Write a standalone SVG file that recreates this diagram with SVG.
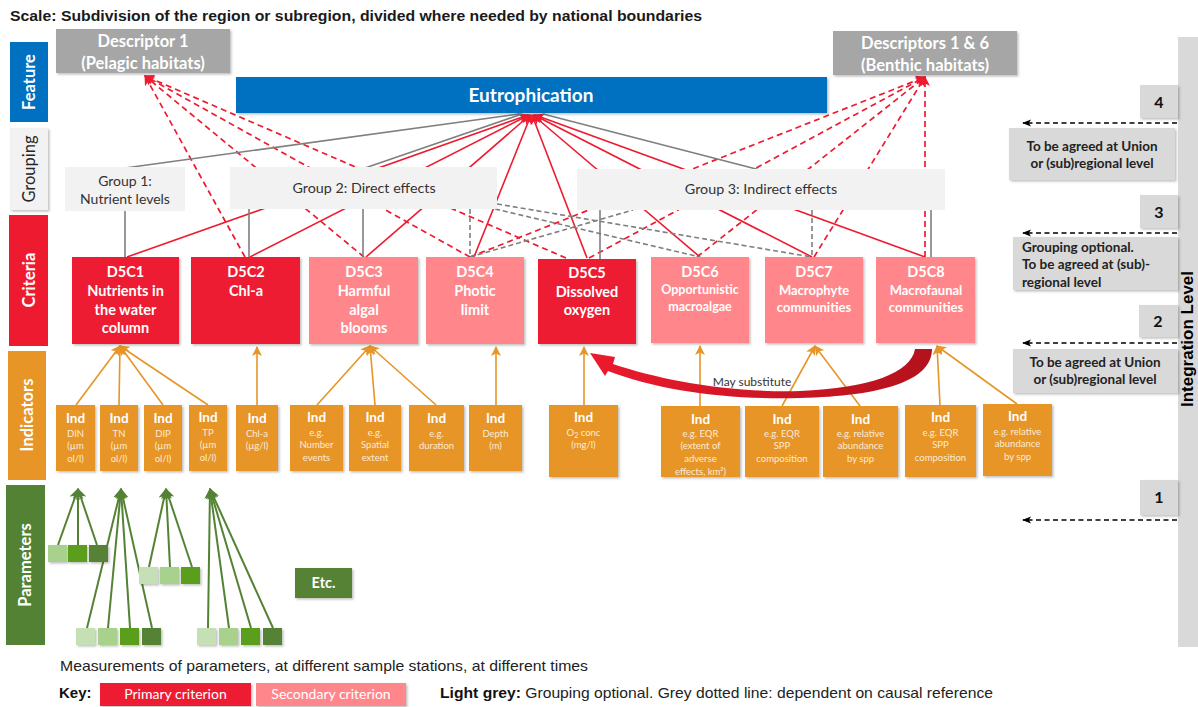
<svg xmlns="http://www.w3.org/2000/svg" width="1198" height="707" viewBox="0 0 1198 707">
<defs>
<style>
.cal{font-family:Lato,"Open Sans","Noto Sans",sans-serif}
.ar{font-family:"Liberation Sans",Arial,sans-serif}
.wb{fill:#fff;font-weight:bold}
.prim{fill:#EE1B30}
.sec{fill:#FF868B}
.ind{fill:#E69526}
.grp{fill:#F2F2F2}
.lvl{fill:#D9D9D9}
.rs{stroke:#EE1B30;stroke-width:1.6;fill:none}
.rd{stroke:#EE1B30;stroke-width:1.7;fill:none;stroke-dasharray:6 4}
.gs{stroke:#7F7F7F;stroke-width:1.6;fill:none}
.gd{stroke:#7F7F7F;stroke-width:1.6;fill:none;stroke-dasharray:5 3}
.os{stroke:#E69526;stroke-width:1.6;fill:none}
.grn{stroke:#548235;stroke-width:2;fill:none}
.bd{stroke:#000;stroke-width:1.5;fill:none;stroke-dasharray:5 3.5}
.ind-t{font-size:13.5px}
.ind-s{font-size:9.5px;fill:#FCEBD9}
.crit{font-size:14.5px}
.note{font-size:13.5px;font-weight:bold;fill:#222}
.side{font-size:16.5px}
</style>
<filter id="sh" x="-10%" y="-10%" width="130%" height="140%"><feDropShadow dx="1.5" dy="1.5" stdDeviation="1" flood-color="#000" flood-opacity="0.25"/></filter>
<marker id="mr" viewBox="0 0 10 10" refX="9" refY="5" markerWidth="10" markerHeight="10" orient="auto" markerUnits="userSpaceOnUse"><path d="M0,0 L10,5 L0,10 L2.5,5 z" fill="#EE1B30"/></marker>
<marker id="mo" viewBox="0 0 10 10" refX="9" refY="5" markerWidth="10" markerHeight="10" orient="auto" markerUnits="userSpaceOnUse"><path d="M0,0 L10,5 L0,10 L2.5,5 z" fill="#E69526"/></marker>
<marker id="mg" viewBox="0 0 10 10" refX="9" refY="5" markerWidth="11" markerHeight="11" orient="auto" markerUnits="userSpaceOnUse"><path d="M0,0 L10,5 L0,10 L2.5,5 z" fill="#548235"/></marker>
<marker id="mk" viewBox="0 0 10 10" refX="9" refY="5" markerWidth="9" markerHeight="9" orient="auto" markerUnits="userSpaceOnUse"><path d="M0,1 L10,5 L0,9 L2.5,5 z" fill="#000"/></marker>
<linearGradient id="cres" x1="0" y1="0" x2="1" y2="0"><stop offset="0" stop-color="#EC1A2E"/><stop offset="1" stop-color="#B3121C"/></linearGradient>
</defs>

<text class="ar" x="10" y="21" font-size="15" font-weight="bold" fill="#1a1a1a" textLength="692" lengthAdjust="spacingAndGlyphs">Scale: Subdivision of the region or subregion, divided where needed by national boundaries</text>

<g id="connectors">
  <!-- red solid: criteria to Eutrophication -->
  <line class="rs" x1="127" y1="257" x2="528" y2="115" marker-end="url(#mr)"/>
  <line class="rs" x1="250" y1="257" x2="529" y2="115" marker-end="url(#mr)"/>
  <line class="rs" x1="366" y1="257" x2="530" y2="115" marker-end="url(#mr)"/>
  <line class="rs" x1="474" y1="257" x2="531" y2="115" marker-end="url(#mr)"/>
  <line class="rs" x1="587" y1="258" x2="532" y2="115" marker-end="url(#mr)"/>
  <line class="rs" x1="700" y1="257" x2="533" y2="115" marker-end="url(#mr)"/>
  <line class="rs" x1="812" y1="257" x2="534" y2="115" marker-end="url(#mr)"/>
  <line class="rs" x1="925" y1="257" x2="535" y2="115" marker-end="url(#mr)"/>
  <!-- red dashed to Descriptor 1 -->
  <line class="rd" x1="245" y1="257" x2="145" y2="76" marker-end="url(#mr)"/>
  <line class="rd" x1="364" y1="257" x2="145" y2="76" marker-end="url(#mr)"/>
  <line class="rd" x1="470" y1="257" x2="145" y2="76" marker-end="url(#mr)"/>
  <line class="rd" x1="566" y1="258" x2="145" y2="76" marker-end="url(#mr)"/>
  <!-- red dashed to Descriptors 1 & 6 -->
  <line class="rd" x1="470" y1="257" x2="925" y2="77" marker-end="url(#mr)"/>
  <line class="rd" x1="589" y1="258" x2="925" y2="77" marker-end="url(#mr)"/>
  <line class="rd" x1="697" y1="257" x2="925" y2="77" marker-end="url(#mr)"/>
  <line class="rd" x1="814" y1="257" x2="925" y2="77" marker-end="url(#mr)"/>
  <line class="rd" x1="925" y1="257" x2="925" y2="77" marker-end="url(#mr)"/>
  <!-- grey: groups to Eutrophication -->
  <line class="gs" x1="125" y1="168" x2="519" y2="114"/>
  <line class="gs" x1="365" y1="168" x2="522" y2="114"/>
  <line class="gs" x1="760" y1="170" x2="543" y2="114"/>
  <!-- grey: criteria to groups -->
  <line class="gs" x1="125" y1="211" x2="125" y2="257"/>
  <line class="gs" x1="249" y1="209" x2="249" y2="257"/>
  <line class="gs" x1="363" y1="209" x2="363" y2="257"/>
  <line class="gd" x1="470" y1="209" x2="470" y2="257"/>
  <line class="gs" x1="600" y1="210" x2="600" y2="259"/>
  <line class="gd" x1="812" y1="210" x2="812" y2="257"/>
  <line class="gs" x1="931" y1="210" x2="931" y2="257"/>
  <!-- grey dashed: dependent on causal reference -->
  <line class="gd" x1="470" y1="257" x2="633" y2="210"/>
  <line class="gd" x1="495" y1="209" x2="700" y2="257"/>
  <line class="gd" x1="497" y1="204" x2="812" y2="257"/>
  <!-- orange: indicators to criteria -->
  <line class="os" x1="76" y1="405" x2="120" y2="346" marker-end="url(#mo)"/>
  <line class="os" x1="119" y1="405" x2="120" y2="346" marker-end="url(#mo)"/>
  <line class="os" x1="163" y1="405" x2="120" y2="346" marker-end="url(#mo)"/>
  <line class="os" x1="208" y1="405" x2="120" y2="346" marker-end="url(#mo)"/>
  <line class="os" x1="257" y1="405" x2="257" y2="347" marker-end="url(#mo)"/>
  <line class="os" x1="317" y1="405" x2="370" y2="346" marker-end="url(#mo)"/>
  <line class="os" x1="375" y1="405" x2="370" y2="346" marker-end="url(#mo)"/>
  <line class="os" x1="436" y1="405" x2="370" y2="346" marker-end="url(#mo)"/>
  <line class="os" x1="496" y1="405" x2="496" y2="347" marker-end="url(#mo)"/>
  <line class="os" x1="584" y1="405" x2="584" y2="347" marker-end="url(#mo)"/>
  <line class="os" x1="700" y1="406" x2="700" y2="346" marker-end="url(#mo)"/>
  <line class="os" x1="782" y1="406" x2="815" y2="346" marker-end="url(#mo)"/>
  <line class="os" x1="860" y1="406" x2="815" y2="346" marker-end="url(#mo)"/>
  <line class="os" x1="940" y1="405" x2="937" y2="346" marker-end="url(#mo)"/>
  <line class="os" x1="1017" y1="404" x2="937" y2="346" marker-end="url(#mo)"/>
  <!-- green: parameters to indicators -->
  <line class="grn" x1="58" y1="545" x2="78" y2="489" marker-end="url(#mg)"/>
  <line class="grn" x1="78" y1="545" x2="78" y2="489" marker-end="url(#mg)"/>
  <line class="grn" x1="97" y1="545" x2="78" y2="489" marker-end="url(#mg)"/>
  <line class="grn" x1="87" y1="628" x2="121" y2="489" marker-end="url(#mg)"/>
  <line class="grn" x1="108" y1="628" x2="121" y2="489" marker-end="url(#mg)"/>
  <line class="grn" x1="130" y1="628" x2="121" y2="489" marker-end="url(#mg)"/>
  <line class="grn" x1="152" y1="628" x2="121" y2="489" marker-end="url(#mg)"/>
  <line class="grn" x1="149" y1="567" x2="166" y2="489" marker-end="url(#mg)"/>
  <line class="grn" x1="170" y1="567" x2="166" y2="489" marker-end="url(#mg)"/>
  <line class="grn" x1="192" y1="567" x2="166" y2="489" marker-end="url(#mg)"/>
  <line class="grn" x1="208" y1="628" x2="210" y2="489" marker-end="url(#mg)"/>
  <line class="grn" x1="229" y1="628" x2="210" y2="489" marker-end="url(#mg)"/>
  <line class="grn" x1="251" y1="628" x2="210" y2="489" marker-end="url(#mg)"/>
  <line class="grn" x1="273" y1="628" x2="210" y2="489" marker-end="url(#mg)"/>
  <!-- level dashed arrows -->
  <line class="bd" x1="1177" y1="123" x2="1023" y2="123" marker-end="url(#mk)"/>
  <line class="bd" x1="1177" y1="233" x2="1023" y2="233" marker-end="url(#mk)"/>
  <line class="bd" x1="1177" y1="343" x2="1023" y2="343" marker-end="url(#mk)"/>
  <line class="bd" x1="1177" y1="520" x2="1023" y2="520" marker-end="url(#mk)"/>
  <!-- may substitute -->
  <path id="substitute" d="M915,349 C911,373 870,388 800,391 C730,393 660,380 613,364 L615,357 L590,353 L605,376 L608,371 C660,391 730,400 800,398 C882,396 932,381 932,349 Z" fill="url(#cres)"/>
</g>

<!-- level labels -->
<g id="lbl-feature"><rect x="10" y="42" width="38" height="80" fill="#0070C0"/><text class="cal wb side" x="35" y="82" text-anchor="middle" transform="rotate(-90 35 82)">Feature</text></g>
<g id="lbl-grouping"><rect x="10" y="128" width="38" height="82" class="grp" filter="url(#sh)"/><text class="cal side" x="35" y="169" fill="#262626" text-anchor="middle" transform="rotate(-90 35 169)">Grouping</text></g>
<g id="lbl-criteria"><rect x="9" y="215" width="39" height="131" class="prim"/><text class="cal wb side" x="35" y="280" text-anchor="middle" transform="rotate(-90 35 280)">Criteria</text></g>
<g id="lbl-indicators"><rect x="8" y="351" width="38" height="129" class="ind"/><text class="cal wb side" x="33" y="415" text-anchor="middle" transform="rotate(-90 33 415)">Indicators</text></g>
<g id="lbl-parameters"><rect x="6" y="485" width="39" height="160" fill="#548235"/><text class="cal wb side" x="31" y="565" text-anchor="middle" transform="rotate(-90 31 565)">Parameters</text></g>

<!-- descriptors & feature -->
<g id="descriptor1"><rect x="56" y="29" width="174" height="44" fill="#A6A6A6" filter="url(#sh)"/><text class="cal wb" font-size="16.5" text-anchor="middle"><tspan x="143" y="47">Descriptor 1</tspan><tspan x="143" y="69">(Pelagic habitats)</tspan></text></g>
<g id="descriptor16"><rect x="833" y="31" width="184" height="44" fill="#A6A6A6" filter="url(#sh)"/><text class="cal wb" font-size="16.5" text-anchor="middle"><tspan x="925" y="49">Descriptors 1 &amp; 6</tspan><tspan x="925" y="71">(Benthic habitats)</tspan></text></g>
<g id="eutrophication"><rect x="236" y="77" width="591" height="36" fill="#0070C0" filter="url(#sh)"/><text class="cal wb" x="531" y="102" font-size="19" text-anchor="middle">Eutrophication</text></g>

<!-- groups -->
<g id="group1"><rect x="65" y="167" width="120" height="44" class="grp"/><text class="cal" font-size="14" fill="#333" text-anchor="middle"><tspan x="125" y="186">Group 1:</tspan><tspan x="125" y="204">Nutrient levels</tspan></text></g>
<g id="group2"><rect x="230" y="167" width="267" height="42" class="grp"/><text class="cal" x="364" y="193" font-size="14.3" fill="#333" text-anchor="middle">Group 2: Direct effects</text></g>
<g id="group3"><rect x="577" y="169" width="368" height="41" class="grp"/><text class="cal" x="761" y="194" font-size="14.3" fill="#333" text-anchor="middle">Group 3: Indirect effects</text></g>

<!-- criteria -->
<g id="D5C1"><rect x="72" y="257" width="107" height="87" class="prim" filter="url(#sh)"/><text class="cal wb crit" text-anchor="middle"><tspan x="125.5" y="277">D5C1</tspan><tspan x="125.5" y="296">Nutrients in</tspan><tspan x="125.5" y="315">the water</tspan><tspan x="125.5" y="333">column</tspan></text></g>
<g id="D5C2"><rect x="191" y="257" width="109" height="87" class="prim" filter="url(#sh)"/><text class="cal wb crit" text-anchor="middle"><tspan x="246" y="277">D5C2</tspan><tspan x="246" y="296">Chl-a</tspan></text></g>
<g id="D5C3"><rect x="309" y="257" width="109" height="87" class="sec" filter="url(#sh)"/><text class="cal wb crit" text-anchor="middle"><tspan x="364" y="277">D5C3</tspan><tspan x="364" y="296">Harmful</tspan><tspan x="364" y="315">algal</tspan><tspan x="364" y="333">blooms</tspan></text></g>
<g id="D5C4"><rect x="426" y="257" width="98" height="87" class="sec" filter="url(#sh)"/><text class="cal wb crit" text-anchor="middle"><tspan x="475" y="277">D5C4</tspan><tspan x="475" y="296">Photic</tspan><tspan x="475" y="315">limit</tspan></text></g>
<g id="D5C5"><rect x="538" y="259" width="98" height="85" class="prim" filter="url(#sh)"/><text class="cal wb crit" text-anchor="middle"><tspan x="587" y="278">D5C5</tspan><tspan x="587" y="297">Dissolved</tspan><tspan x="587" y="315">oxygen</tspan></text></g>
<g id="D5C6"><rect x="651" y="257" width="98" height="86" class="sec" filter="url(#sh)"/><text class="cal wb" text-anchor="middle"><tspan x="700" y="277" font-size="14.5">D5C6</tspan><tspan x="700" y="294" font-size="12.5">Opportunistic</tspan><tspan x="700" y="311" font-size="12.5">macroalgae</tspan></text></g>
<g id="D5C7"><rect x="765" y="257" width="98" height="86" class="sec" filter="url(#sh)"/><text class="cal wb" text-anchor="middle"><tspan x="814" y="277" font-size="14.5">D5C7</tspan><tspan x="814" y="295" font-size="13">Macrophyte</tspan><tspan x="814" y="312" font-size="13">communities</tspan></text></g>
<g id="D5C8"><rect x="876" y="257" width="99" height="86" class="sec" filter="url(#sh)"/><text class="cal wb" text-anchor="middle"><tspan x="926" y="277" font-size="14.5">D5C8</tspan><tspan x="926" y="295" font-size="13">Macrofaunal</tspan><tspan x="926" y="312" font-size="13">communities</tspan></text></g>

<text class="cal" x="752" y="386" font-size="12" fill="#333" text-anchor="middle">May substitute</text>

<!-- indicators -->
<g id="ind-din"><rect x="56" y="405" width="39" height="66" class="ind" filter="url(#sh)"/><text class="cal" text-anchor="middle"><tspan class="wb ind-t" x="75.5" y="423">Ind</tspan><tspan class="ind-s" x="75.5" y="437">DIN</tspan><tspan class="ind-s" x="75.5" y="449">(µm</tspan><tspan class="ind-s" x="75.5" y="462">ol/l)</tspan></text></g>
<g id="ind-tn"><rect x="100" y="405" width="38" height="66" class="ind" filter="url(#sh)"/><text class="cal" text-anchor="middle"><tspan class="wb ind-t" x="119" y="423">Ind</tspan><tspan class="ind-s" x="119" y="437">TN</tspan><tspan class="ind-s" x="119" y="449">(µm</tspan><tspan class="ind-s" x="119" y="462">ol/l)</tspan></text></g>
<g id="ind-dip"><rect x="144" y="405" width="38" height="66" class="ind" filter="url(#sh)"/><text class="cal" text-anchor="middle"><tspan class="wb ind-t" x="163" y="423">Ind</tspan><tspan class="ind-s" x="163" y="437">DIP</tspan><tspan class="ind-s" x="163" y="449">(µm</tspan><tspan class="ind-s" x="163" y="462">ol/l)</tspan></text></g>
<g id="ind-tp"><rect x="189" y="405" width="38" height="66" class="ind" filter="url(#sh)"/><text class="cal" text-anchor="middle"><tspan class="wb ind-t" x="208" y="422">Ind</tspan><tspan class="ind-s" x="208" y="436">TP</tspan><tspan class="ind-s" x="208" y="448">(µm</tspan><tspan class="ind-s" x="208" y="461">ol/l)</tspan></text></g>
<g id="ind-chla"><rect x="236" y="405" width="42" height="66" class="ind" filter="url(#sh)"/><text class="cal" text-anchor="middle"><tspan class="wb ind-t" x="257" y="423">Ind</tspan><tspan class="ind-s" x="257" y="437">Chl-a</tspan><tspan class="ind-s" x="257" y="449">(µg/l)</tspan></text></g>
<g id="ind-number"><rect x="290" y="405" width="53" height="66" class="ind" filter="url(#sh)"/><text class="cal" text-anchor="middle"><tspan class="wb ind-t" x="316.5" y="422">Ind</tspan><tspan class="ind-s" x="316.5" y="436">e.g.</tspan><tspan class="ind-s" x="316.5" y="448">Number</tspan><tspan class="ind-s" x="316.5" y="461">events</tspan></text></g>
<g id="ind-spatial"><rect x="349" y="405" width="52" height="66" class="ind" filter="url(#sh)"/><text class="cal" text-anchor="middle"><tspan class="wb ind-t" x="375" y="422">Ind</tspan><tspan class="ind-s" x="375" y="436">e.g.</tspan><tspan class="ind-s" x="375" y="448">Spatial</tspan><tspan class="ind-s" x="375" y="461">extent</tspan></text></g>
<g id="ind-duration"><rect x="409" y="405" width="55" height="66" class="ind" filter="url(#sh)"/><text class="cal" text-anchor="middle"><tspan class="wb ind-t" x="436.5" y="423">Ind</tspan><tspan class="ind-s" x="436.5" y="437">e.g.</tspan><tspan class="ind-s" x="436.5" y="449">duration</tspan></text></g>
<g id="ind-depth"><rect x="469" y="405" width="53" height="66" class="ind" filter="url(#sh)"/><text class="cal" text-anchor="middle"><tspan class="wb ind-t" x="495.5" y="423">Ind</tspan><tspan class="ind-s" x="495.5" y="437">Depth</tspan><tspan class="ind-s" x="495.5" y="449">(m)</tspan></text></g>
<g id="ind-o2"><rect x="549" y="405" width="69" height="72" class="ind" filter="url(#sh)"/><text class="cal" text-anchor="middle"><tspan class="wb ind-t" x="583.5" y="422">Ind</tspan><tspan class="ind-s" x="583.5" y="436">O<tspan font-size="7" dy="2">2</tspan><tspan dy="-2"> conc</tspan></tspan><tspan class="ind-s" x="583.5" y="448">(mg/l)</tspan></text></g>
<g id="ind-eqr-extent"><rect x="661" y="406" width="79" height="71" class="ind" filter="url(#sh)"/><text class="cal" text-anchor="middle"><tspan class="wb ind-t" x="700.5" y="424">Ind</tspan><tspan class="ind-s" x="700.5" y="437">e.g. EQR</tspan><tspan class="ind-s" x="700.5" y="449">(extent of</tspan><tspan class="ind-s" x="700.5" y="462">adverse</tspan><tspan class="ind-s" x="700.5" y="475">effects, km²)</tspan></text></g>
<g id="ind-eqr-spp1"><rect x="745" y="406" width="74" height="71" class="ind" filter="url(#sh)"/><text class="cal" text-anchor="middle"><tspan class="wb ind-t" x="782" y="424">Ind</tspan><tspan class="ind-s" x="782" y="437">e.g. EQR</tspan><tspan class="ind-s" x="782" y="449">SPP</tspan><tspan class="ind-s" x="782" y="462">composition</tspan></text></g>
<g id="ind-rel1"><rect x="823" y="406" width="75" height="71" class="ind" filter="url(#sh)"/><text class="cal" text-anchor="middle"><tspan class="wb ind-t" x="860.5" y="424">Ind</tspan><tspan class="ind-s" x="860.5" y="437">e.g. relative</tspan><tspan class="ind-s" x="860.5" y="449">abundance</tspan><tspan class="ind-s" x="860.5" y="462">by spp</tspan></text></g>
<g id="ind-eqr-spp2"><rect x="905" y="405" width="71" height="72" class="ind" filter="url(#sh)"/><text class="cal" text-anchor="middle"><tspan class="wb ind-t" x="940.5" y="422">Ind</tspan><tspan class="ind-s" x="940.5" y="436">e.g. EQR</tspan><tspan class="ind-s" x="940.5" y="448">SPP</tspan><tspan class="ind-s" x="940.5" y="461">composition</tspan></text></g>
<g id="ind-rel2"><rect x="983" y="404" width="69" height="72" class="ind" filter="url(#sh)"/><text class="cal" text-anchor="middle"><tspan class="wb ind-t" x="1017.5" y="421">Ind</tspan><tspan class="ind-s" x="1017.5" y="435">e.g. relative</tspan><tspan class="ind-s" x="1017.5" y="447">abundance</tspan><tspan class="ind-s" x="1017.5" y="460">by spp</tspan></text></g>

<!-- parameters -->
<g id="params-a"><rect x="48" y="545" width="19" height="17" fill="#A9D18E" filter="url(#sh)"/><rect x="68" y="545" width="19" height="17" fill="#5A9E1E" filter="url(#sh)"/><rect x="89" y="545" width="19" height="17" fill="#548235" filter="url(#sh)"/></g>
<g id="params-b"><rect x="76" y="628" width="19" height="17" fill="#C5E0B4" filter="url(#sh)"/><rect x="98" y="628" width="19" height="17" fill="#A9D18E" filter="url(#sh)"/><rect x="120" y="628" width="19" height="17" fill="#5A9E1E" filter="url(#sh)"/><rect x="142" y="628" width="19" height="17" fill="#548235" filter="url(#sh)"/></g>
<g id="params-c"><rect x="139" y="567" width="19" height="17" fill="#C5E0B4" filter="url(#sh)"/><rect x="160" y="567" width="19" height="17" fill="#A9D18E" filter="url(#sh)"/><rect x="181" y="567" width="19" height="17" fill="#5A9E1E" filter="url(#sh)"/></g>
<g id="params-d"><rect x="197" y="628" width="19" height="17" fill="#C5E0B4" filter="url(#sh)"/><rect x="219" y="628" width="19" height="17" fill="#A9D18E" filter="url(#sh)"/><rect x="241" y="628" width="19" height="17" fill="#5A9E1E" filter="url(#sh)"/><rect x="263" y="628" width="19" height="17" fill="#548235" filter="url(#sh)"/></g>
<g id="etc"><rect x="295" y="568" width="57" height="30" fill="#548235" filter="url(#sh)"/><text class="cal wb" x="323.5" y="588" font-size="14.5" text-anchor="middle">Etc.</text></g>

<!-- integration levels -->
<g id="integration"><rect x="1178" y="37" width="20" height="610" class="lvl"/><text class="ar" x="1193" y="339" font-size="17" font-weight="bold" fill="#000" text-anchor="middle" transform="rotate(-90 1193 339)">Integration Level</text></g>
<g id="level4"><rect x="1140" y="85" width="38" height="33" class="lvl" filter="url(#sh)"/><text class="cal" x="1159" y="108" font-size="16" font-weight="bold" fill="#111" text-anchor="middle">4</text></g>
<g id="level3"><rect x="1140" y="195" width="38" height="33" class="lvl" filter="url(#sh)"/><text class="cal" x="1159" y="218" font-size="16" font-weight="bold" fill="#111" text-anchor="middle">3</text></g>
<g id="level2"><rect x="1139" y="305" width="39" height="32" class="lvl" filter="url(#sh)"/><text class="cal" x="1158" y="327" font-size="16" font-weight="bold" fill="#111" text-anchor="middle">2</text></g>
<g id="level1"><rect x="1140" y="480" width="38" height="35" class="lvl" filter="url(#sh)"/><text class="cal" x="1159" y="503" font-size="16" font-weight="bold" fill="#111" text-anchor="middle">1</text></g>
<g id="note4"><rect x="1009" y="128" width="166" height="52" class="lvl" filter="url(#sh)"/><text class="cal note" text-anchor="middle"><tspan x="1092" y="151">To be agreed at Union</tspan><tspan x="1092" y="168">or (sub)regional level</tspan></text></g>
<g id="note3"><rect x="1013" y="237" width="165" height="53" class="lvl" filter="url(#sh)"/><text class="cal note"><tspan x="1022" y="252">Grouping optional.</tspan><tspan x="1022" y="269">To be agreed at (sub)-</tspan><tspan x="1022" y="287">regional level</tspan></text></g>
<g id="note2"><rect x="1013" y="349" width="165" height="44" class="lvl" filter="url(#sh)"/><text class="cal note" text-anchor="middle"><tspan x="1095" y="367">To be agreed at Union</tspan><tspan x="1095" y="384">or (sub)regional level</tspan></text></g>

<!-- footer / key -->
<text class="ar" x="60" y="671" font-size="15" fill="#222" textLength="528" lengthAdjust="spacingAndGlyphs">Measurements of parameters, at different sample stations, at different times</text>
<g id="key">
<text class="ar" x="59" y="698" font-size="15" font-weight="bold" fill="#111">Key:</text>
<rect x="100" y="683" width="151" height="23" class="prim" filter="url(#sh)"/><text class="cal" x="175.5" y="699" font-size="14" fill="#fff" text-anchor="middle">Primary criterion</text>
<rect x="256" y="683" width="150" height="23" class="sec" filter="url(#sh)"/><text class="cal" x="331" y="699" font-size="14" fill="#fff" text-anchor="middle">Secondary criterion</text>
<text class="ar" x="440" y="698" font-size="15" fill="#222" textLength="553" lengthAdjust="spacingAndGlyphs"><tspan font-weight="bold" fill="#111">Light grey:</tspan> Grouping optional. Grey dotted line: dependent on causal reference</text>
</g>
</svg>
